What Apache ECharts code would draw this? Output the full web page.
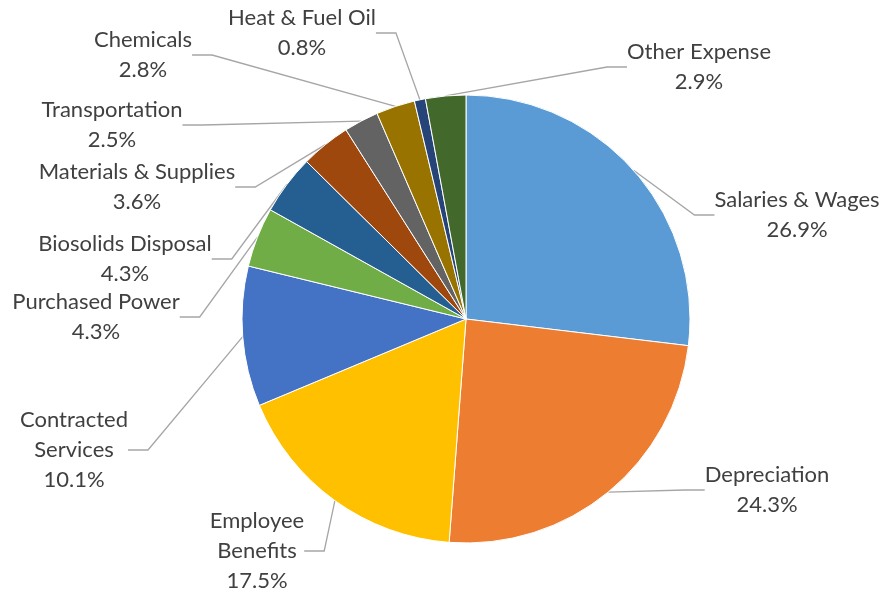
<!DOCTYPE html>
<html>
<head>
<meta charset="utf-8">
<script src="https://cdn.jsdelivr.net/npm/echarts@6/dist/echarts.min.js"></script>
<style>
  html, body { margin: 0; padding: 0; background: #fff; }
  #chart { width: 884px; height: 590px; }
</style>
</head>
<body>
<div id="chart"></div>
<script>
// Operating expense categories, clockwise from 12 o'clock
const categories = [
  'Salaries & Wages', 'Depreciation', 'Employee Benefits', 'Contracted Services',
  'Purchased Power', 'Biosolids Disposal', 'Materials & Supplies', 'Transportation',
  'Chemicals', 'Heat & Fuel Oil', 'Other Expense'
];
// Share of total expense, percent
const shares = [26.9, 24.3, 17.5, 10.1, 4.3, 4.3, 3.6, 2.5, 2.8, 0.8, 2.9];
// Label text as wrapped on the chart
const labelNames = [
  'Salaries & Wages', 'Depreciation', 'Employee\nBenefits', 'Contracted\nServices',
  'Purchased Power', 'Biosolids Disposal', 'Materials & Supplies', 'Transportation',
  'Chemicals', 'Heat & Fuel Oil', 'Other Expense'
];

const colors = ['#5B9BD5', '#ED7D31', '#FFC000', '#4472C4', '#70AD47', '#255E91',
                '#9E480E', '#636363', '#997300', '#264478', '#43682B'];

// Centre of each label block (px)
const labelCenters = [
  [797, 215], [767, 490], [257, 551], [74, 450], [96, 317], [125, 259],
  [137, 187], [112, 125], [143, 55], [302, 33], [699, 67]
];

const chart = echarts.init(document.getElementById('chart'), null, { renderer: 'canvas' });

chart.setOption({
  animation: false,
  color: colors,
  series: [{
    type: 'pie',
    center: [466, 319],
    radius: 224,
    startAngle: 90,
    clockwise: true,
    data: categories.map((c, i) => ({ name: c, value: shares[i] })),
    itemStyle: { borderColor: '#fff', borderWidth: 1 },
    label: {
      show: true,
      color: '#404040',
      fontFamily: 'Lato',
      fontSize: 22,
      lineHeight: 30,
      align: 'center',
      overflow: 'none',
      formatter: p => labelNames[p.dataIndex] + '\n' + p.value.toFixed(1) + '%'
    },
    labelLine: {
      show: true,
      length: 20,
      length2: 20,
      lineStyle: { color: '#A6A6A6', width: 1.3 }
    },
    labelLayout: p => ({
      x: labelCenters[p.dataIndex][0],
      y: labelCenters[p.dataIndex][1],
      align: 'center',
      verticalAlign: 'middle'
    })
  }]
});
</script>
</body>
</html>
